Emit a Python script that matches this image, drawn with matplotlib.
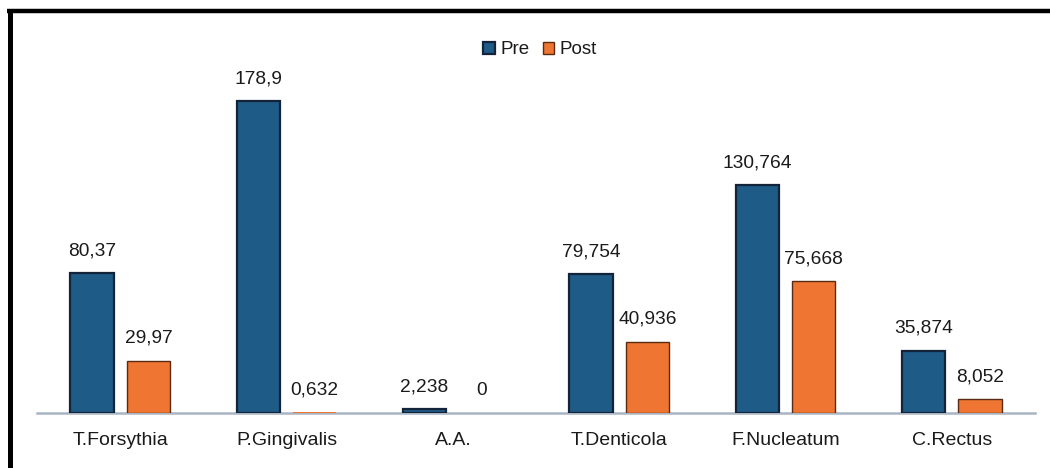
import matplotlib
matplotlib.use("Agg")
import matplotlib.pyplot as plt
from matplotlib.lines import Line2D
import numpy as np

categories = ["T.Forsythia", "P.Gingivalis", "A.A.", "T.Denticola", "F.Nucleatum", "C.Rectus"]
pre_values = [80.37, 178.9, 2.238, 79.754, 130.764, 35.874]
post_values = [29.97, 0.632, 0, 40.936, 75.668, 8.052]
series_names = ["Pre", "Post"]

plt.rcParams["font.family"] = ["Liberation Sans", "DejaVu Sans"]

W, H = 1050, 468
fig = plt.figure(figsize=(W / 100, H / 100), dpi=100)
fig.patch.set_facecolor("white")

ax = fig.add_axes([37 / W, (H - 413) / H, 998 / W, 348.4 / H])
ax.set_facecolor("white")

x = np.arange(len(categories))
bw = 0.26
off = 0.17
pre_col, post_col = "#1F5B87", "#EE7532"
text_col = "#1a1a1a"

b1 = ax.bar(x - off, pre_values, bw, color=pre_col, edgecolor="#12233a", linewidth=1.6,
            label=series_names[0], zorder=3)
# very small post bars are drawn without an outline so they stay flat on the axis
post_edges = ["#5a2a12" if v >= 1 else "none" for v in post_values]
b2 = ax.bar(x + off, post_values, bw, color=post_col, edgecolor=post_edges, linewidth=1.0,
            label=series_names[1], zorder=3)


def fmt(v):
    return f"{v:g}".replace(".", ",")


for bars, vals in ((b1, pre_values), (b2, post_values)):
    for rect, v in zip(bars, vals):
        ax.annotate(fmt(v), (rect.get_x() + rect.get_width() / 2, v),
                    xytext=(0, 10), textcoords="offset points",
                    ha="center", va="bottom", fontsize=13.8, color=text_col)

ax.set_xlim(-0.5, len(categories) - 0.5)
ax.set_ylim(0, 200)
ax.set_xticks(x)
ax.set_xticklabels(categories, fontsize=14, color=text_col)
ax.tick_params(axis="x", length=0, pad=14)
ax.set_yticks([])
for s in ("top", "right", "left"):
    ax.spines[s].set_visible(False)
ax.spines["bottom"].set_color("#A9B5C2")
ax.spines["bottom"].set_linewidth(1.8)
ax.spines["bottom"].set_zorder(2)

leg = fig.legend(handles=[b1, b2], labels=series_names, loc="center",
                 bbox_to_anchor=(540 / W, 1 - 50 / H), ncol=2, frameon=False,
                 fontsize=13.5, handlelength=0.6, handleheight=0.6,
                 handletextpad=0.3, columnspacing=0.7)
for t in leg.get_texts():
    t.set_color(text_col)

# outer frame: left and top dark edges
fig.add_artist(Line2D([9.5 / W, 9.5 / W], [0, 1 - 8.8 / H], color="black",
                      linewidth=3.6, solid_capstyle="butt", transform=fig.transFigure))
fig.add_artist(Line2D([7 / W, 1], [1 - 11 / H, 1 - 11 / H], color="black",
                      linewidth=3.2, solid_capstyle="butt", transform=fig.transFigure))

fig.savefig("out.png", dpi=100, facecolor="white")
